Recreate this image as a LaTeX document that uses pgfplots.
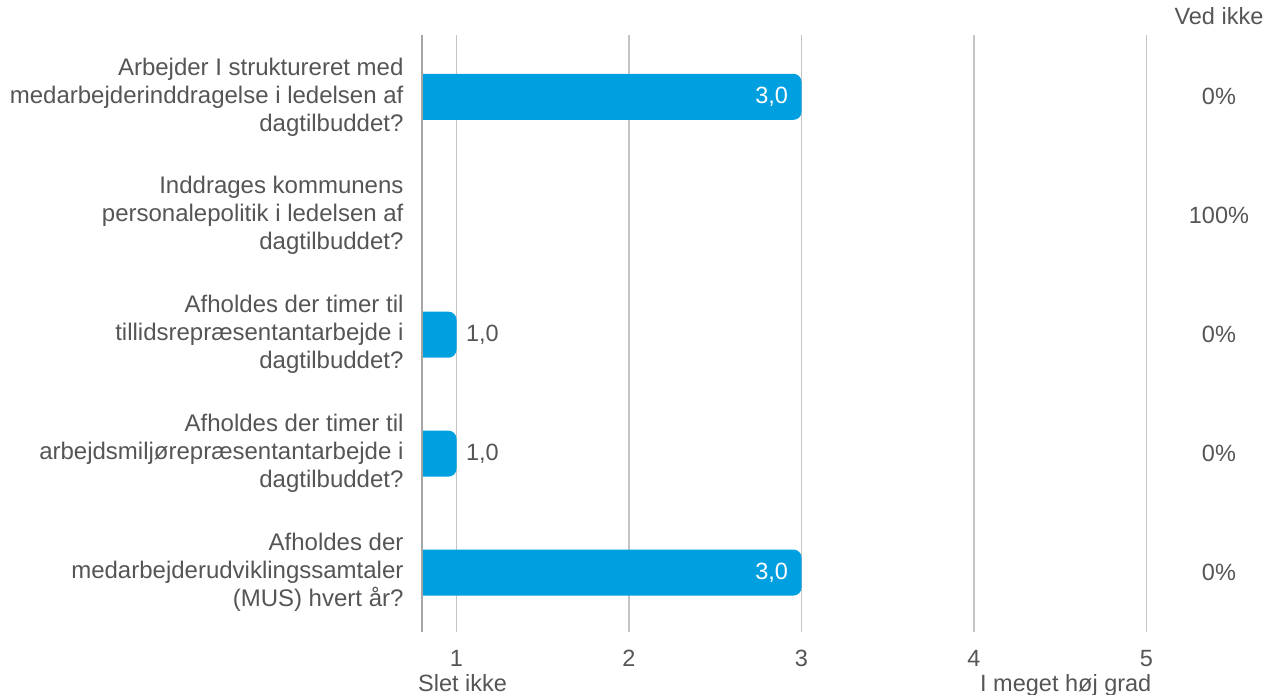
\documentclass[border=0pt]{standalone}
\usepackage{fontspec}
\setmainfont{Liberation Sans}
\usepackage{pgfplots}
\pgfplotsset{compat=1.18}
\definecolor{barblue}{HTML}{009FE0}
\definecolor{txt}{HTML}{555555}
\definecolor{gridc}{HTML}{C4C4C4}
\definecolor{axc}{HTML}{A6A6A6}
\newcommand{\lab}{\fontsize{24}{28}\selectfont}
\newcommand{\sml}{\fontsize{23.5}{28}\selectfont}
\pgfplotsset{
  samey/.style={scale only axis, height=597pt, ymin=-0.52, ymax=4.5, y dir=reverse},
  valuelabel/.style={nodes near coords={\pgfmathprintnumber[fixed,fixed zerofill,precision=1,use comma]{\pgfplotspointmeta}}},
}

\begin{document}
\begin{tikzpicture}
\useasboundingbox (0,0) rectangle (1266pt,694pt);
% frame: grid, axis line, labels
\begin{axis}[
  samey,
  at={(422pt,62pt)}, anchor=south west,
  width=724.5pt,
  xmin=0.8, xmax=5,
  clip=false,
  axis lines*=left,
  x axis line style={draw=none},
  y axis line style={-, draw=axc, line width=2pt},
  major tick length=0pt,
  xtick={1,2,3,4,5},
  xmajorgrids, grid style={gridc, line width=1.2pt},
  ytick={0,1,2,3,4},
  yticklabels={
    {Arbejder I struktureret med\\medarbejderinddragelse i ledelsen af\\dagtilbuddet?},
    {Inddrages kommunens\\personalepolitik i ledelsen af\\dagtilbuddet?},
    {Afholdes der timer til\\tillidsrepræsentantarbejde i\\dagtilbuddet?},
    {Afholdes der timer til\\arbejdsmiljørepræsentantarbejde i\\dagtilbuddet?},
    {Afholdes der\\medarbejderudviklingssamtaler\\(MUS) hvert år?}},
  /pgf/number format/assume math mode=true,
  xticklabel style={font=\sml, text=txt, yshift=-15pt},
  yticklabel style={font=\lab, text=txt, align=right, xshift=-15pt},
]
\node[font=\sml, text=txt, anchor=base] at (axis cs:5.42,-0.52) [yshift=11pt] {Ved ikke};
\node[font=\sml, text=txt] at (axis cs:5.42,0) {0\%};
\node[font=\sml, text=txt] at (axis cs:5.42,1) {100\%};
\node[font=\sml, text=txt] at (axis cs:5.42,2) {0\%};
\node[font=\sml, text=txt] at (axis cs:5.42,3) {0\%};
\node[font=\sml, text=txt] at (axis cs:5.42,4) {0\%};
\node[font=\sml, text=txt, anchor=base west, inner sep=0pt] at (axis cs:0.8,4.5) [yshift=-59pt, xshift=-4pt] {Slet ikke};
\node[font=\sml, text=txt, anchor=base east, inner sep=0pt] at (axis cs:5,4.5) [yshift=-59pt, xshift=5pt] {I meget høj grad};
\end{axis}
% bars: same scale, started at 0 and cut at the axis line so only the right ends are rounded
\begin{scope}
\clip (423pt,0pt) rectangle (1266pt,694pt);
\begin{axis}[
  samey,
  at={(284pt,62pt)}, anchor=south west,
  width=862.5pt,
  xmin=0, xmax=5,
  hide axis,
  xbar, bar width=46pt,
  /pgf/number format/assume math mode=true,
  every node near coord/.append style={font=\sml},
]
\addplot[draw=none, fill=barblue, rounded corners=8pt, bar shift=0pt, valuelabel,
  every node near coord/.append style={anchor=east, text=white, xshift=-10pt}]
  coordinates {(3,0) (3,4)};
\addplot[draw=none, fill=barblue, rounded corners=8pt, bar shift=0pt, valuelabel,
  every node near coord/.append style={anchor=west, text=txt, xshift=6pt}]
  coordinates {(1,2) (1,3)};
\end{axis}
\end{scope}
\end{tikzpicture}
\end{document}
